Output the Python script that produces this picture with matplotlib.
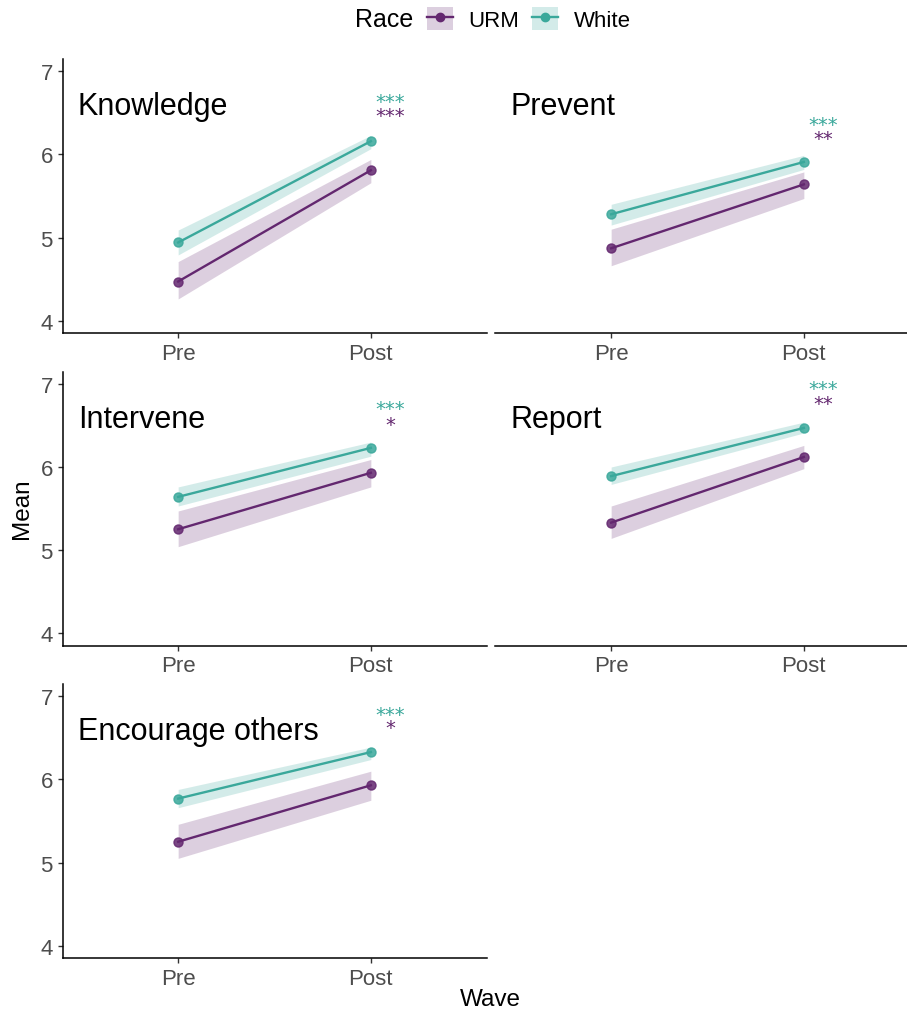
import numpy as np
import matplotlib.pyplot as plt
from matplotlib.patches import Patch
from matplotlib.lines import Line2D

plt.rcParams['font.family'] = ['Liberation Sans', 'DejaVu Sans']

##### data #####
waves = ['Pre', 'Post']
outcomes = ['Knowledge', 'Prevent', 'Intervene', 'Report', 'Encourage others']
races = ['URM', 'White']

urm_mean = [[4.47, 5.81], [4.87, 5.64], [5.25, 5.93], [5.33, 6.12], [5.25, 5.93]]
urm_lo = [[4.26, 5.66], [4.66, 5.47], [5.04, 5.76], [5.14, 5.98], [5.05, 5.75]]
urm_hi = [[4.71, 5.94], [5.10, 5.79], [5.47, 6.09], [5.53, 6.26], [5.46, 6.10]]

white_mean = [[4.94, 6.16], [5.28, 5.91], [5.64, 6.23], [5.89, 6.47], [5.77, 6.33]]
white_lo = [[4.79, 6.07], [5.15, 5.82], [5.53, 6.13], [5.79, 6.41], [5.66, 6.24]]
white_hi = [[5.09, 6.23], [5.40, 5.99], [5.76, 6.30], [6.00, 6.54], [5.88, 6.39]]

# significance stars (Pre vs Post) and where they sit
white_sig = ['***', '***', '***', '***', '***']
urm_sig = ['***', '**', '*', '**', '*']
white_sig_y = [6.68, 6.41, 6.75, 6.99, 6.83]
urm_sig_y = [6.51, 6.24, 6.55, 6.81, 6.67]

col = {'URM': '#63276f', 'White': '#3aa89b'}
grey_txt = '#4d4d4d'

##### MAIN #####
W, H = 907, 1012
fig = plt.figure(figsize=(W / 100, H / 100), dpi=100, facecolor='w')

pw, ph = 424, 274
lefts = [62.5, 495.5]
tops = [60, 372.5, 685]

x = np.arange(1, len(waves) + 1)
for i, name in enumerate(outcomes):
    r, c = divmod(i, 2)
    ax = fig.add_axes([lefts[c] / W, 1 - (tops[r] + ph) / H, pw / W, ph / H])

    for race, m, lo, hi in [('URM', urm_mean[i], urm_lo[i], urm_hi[i]),
                            ('White', white_mean[i], white_lo[i], white_hi[i])]:
        ax.fill_between(x, lo, hi, color=col[race], alpha=0.22, lw=0, zorder=1)
        ax.plot(x, m, color=col[race], lw=1.7, zorder=2)
        ax.plot(x, m, 'o', color=col[race], ms=6.5, alpha=0.85, mec=col[race], zorder=3)

    ax.text(2.1, white_sig_y[i] - 0.11, white_sig[i], color=col['White'],
            ha='center', va='baseline', fontsize=14, family='DejaVu Sans')
    ax.text(2.1, urm_sig_y[i] - 0.11, urm_sig[i], color=col['URM'],
            ha='center', va='baseline', fontsize=14, family='DejaVu Sans')

    ax.text(0.48, 6.58, name, fontsize=22, ha='left', va='center', color='k')

    ax.set_xlim(0.4, 2.6)
    ax.set_ylim(3.85, 7.15)
    ax.set_xticks(x)
    ax.set_xticklabels(waves)
    ax.set_yticks([4, 5, 6, 7])
    for s in ['top', 'right']:
        ax.spines[s].set_visible(False)
    for s in ['left', 'bottom']:
        ax.spines[s].set_linewidth(1.1)
    ax.tick_params(axis='both', labelsize=16, labelcolor=grey_txt,
                   color='#333333', length=3.5, width=1.0, pad=3.5)
    if c == 1:
        ax.spines['left'].set_visible(False)
        ax.tick_params(axis='y', left=False, labelleft=False)

fig.text(22 / W, 1 - 509 / H, 'Mean', rotation=90, fontsize=17.5,
         ha='center', va='center')
fig.text(490 / W, 1 - 1000 / H, 'Wave', fontsize=17.5, ha='center', va='center')

# legend on top
handles = [(Patch(facecolor=col[r], alpha=0.22, lw=0),
            Line2D([], [], color=col[r], lw=1.7, marker='o', ms=6)) for r in races]
fig.text(355 / W, 1 - 20 / H, 'Race', fontsize=18, ha='left', va='center')
fig.legend(handles, races, loc='center left', bbox_to_anchor=(427 / W, 1 - 20 / H),
           ncol=2, frameon=False, fontsize=16, handlelength=1.15, handleheight=1.2,
           handletextpad=0.7, columnspacing=0.6, borderpad=0, borderaxespad=0)

fig.savefig('out.png', dpi=100)
